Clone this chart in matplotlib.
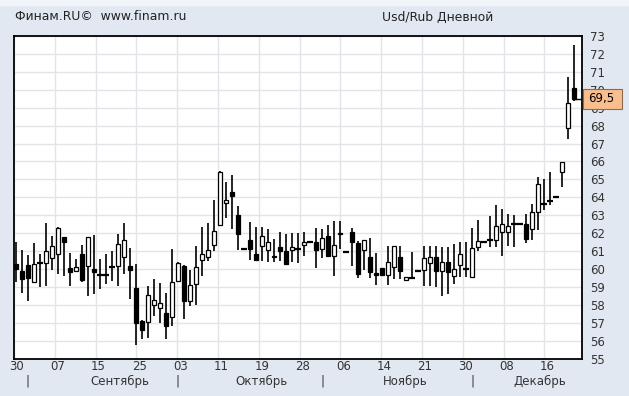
import matplotlib
matplotlib.use("Agg")
import matplotlib.pyplot as plt
from matplotlib.patches import Rectangle
from matplotlib.transforms import blended_transform_factory

# Usd/Rub, дневные свечи (open / high / low / close)
opens = [60.28, 59.89, 60.22, 59.30, 60.31, 60.31, 60.59, 60.81, 61.76, 60.06,
         59.87, 60.83, 60.15, 60.00, 59.74, 59.72, 60.09, 60.14, 60.69, 60.17,
         58.96, 57.12, 57.07, 57.97, 57.84, 57.53, 57.34, 59.35, 60.17, 58.19,
         59.18, 60.50, 60.67, 61.33, 62.47, 63.70, 64.27, 63.02, 61.10, 61.63,
         60.85, 61.31, 61.04, 60.74, 61.24, 61.02, 61.04, 61.13, 61.33, 61.48,
         61.50, 61.11, 61.85, 60.70, 62.02, 60.94, 62.06, 61.44, 61.07, 60.67,
         59.79, 60.05, 59.68, 60.10, 60.65, 59.38, 59.48, 59.88, 59.95, 60.34,
         60.65, 59.86, 60.38, 59.61, 60.23, 59.99, 59.58, 61.20, 61.50, 61.59,
         61.59, 62.05, 62.05, 62.50, 62.50, 62.51, 62.25, 63.20, 63.63, 63.82,
         64.04, 65.40, 67.85, 70.08]
highs = [61.48, 61.06, 60.78, 61.44, 60.83, 62.56, 61.85, 62.35, 61.78, 60.89,
         60.56, 61.33, 61.80, 61.91, 60.56, 60.83, 61.02, 61.94, 62.54, 61.15,
         60.26, 57.15, 59.03, 59.46, 59.22, 58.65, 61.13, 60.40, 60.20, 59.97,
         61.28, 62.32, 62.56, 63.83, 65.45, 64.88, 65.25, 63.52, 61.10, 62.63,
         62.37, 62.33, 62.22, 61.67, 62.06, 61.93, 62.00, 62.00, 62.04, 61.48,
         62.28, 62.22, 62.46, 62.65, 62.70, 60.94, 62.30, 61.57, 61.60, 61.75,
         60.89, 60.05, 61.29, 61.30, 61.29, 59.56, 60.93, 59.88, 61.29, 61.26,
         61.29, 61.20, 61.20, 61.39, 61.48, 61.53, 62.28, 62.74, 61.50, 62.93,
         63.58, 63.33, 63.08, 63.04, 62.50, 63.09, 63.62, 65.16, 65.03, 65.40,
         64.04, 65.96, 70.73, 72.50]
lows = [59.30, 58.67, 58.24, 59.26, 59.00, 59.04, 59.96, 59.72, 59.63, 59.07,
        59.85, 59.26, 58.52, 58.61, 58.89, 59.17, 59.35, 59.03, 59.73, 58.31,
        55.78, 56.09, 56.15, 57.38, 57.01, 56.09, 56.83, 59.30, 57.20, 57.91,
        57.99, 59.62, 60.44, 61.00, 62.45, 62.84, 62.25, 61.04, 61.10, 60.48,
        60.48, 60.43, 60.37, 60.37, 60.43, 60.28, 60.37, 60.33, 60.74, 61.48,
        60.06, 60.61, 60.70, 59.63, 61.11, 60.94, 60.19, 59.50, 59.97, 59.50,
        59.09, 59.68, 59.09, 59.46, 59.46, 59.38, 59.45, 59.88, 59.03, 59.03,
        59.00, 58.50, 58.58, 59.18, 59.58, 59.58, 59.58, 61.03, 61.50, 61.25,
        61.22, 60.74, 61.29, 61.25, 62.50, 61.43, 61.64, 62.18, 63.30, 63.58,
        64.04, 64.60, 67.24, 69.39]
closes = [60.02, 59.46, 59.52, 60.26, 60.31, 60.98, 61.31, 62.31, 61.52, 59.85,
          60.09, 59.41, 61.76, 59.81, 59.69, 59.68, 60.09, 61.42, 61.61, 59.97,
          57.01, 56.61, 58.56, 58.28, 58.10, 56.83, 59.29, 60.34, 58.19, 59.13,
          60.12, 60.83, 61.06, 62.10, 65.39, 63.87, 64.09, 61.94, 61.10, 61.11,
          60.52, 61.85, 61.50, 60.67, 61.02, 60.28, 61.22, 61.13, 61.50, 61.48,
          61.04, 61.72, 60.70, 61.35, 61.93, 60.94, 61.48, 59.70, 61.59, 59.83,
          59.68, 59.68, 60.38, 61.29, 59.86, 59.55, 59.48, 59.88, 60.60, 60.65,
          59.86, 60.38, 59.83, 60.01, 60.84, 59.99, 61.16, 61.57, 61.50, 61.59,
          62.39, 62.51, 62.39, 62.50, 62.50, 61.69, 63.17, 64.73, 63.63, 63.82,
          64.04, 65.96, 69.25, 69.50]

date_labels = ["30", "07", "15", "25", "03", "11", "19", "28",
               "06", "14", "21", "30", "08", "16"]
months = ["Сентябрь", "Октябрь", "Ноябрь", "Декабрь"]
month_starts = [2, 27, 51, 76]          # первая свеча месяца
month_text_x = [17.3, 41.0, 64.8, 87.3]  # где стоит название месяца
last_price = 69.5

BG = "#E2E8F1"
W, H = 629, 396

fig = plt.figure(figsize=(W / 100, H / 100), dpi=100, facecolor=BG)
fig.patches.append(Rectangle((0, 1 - 5 / H), 1, 5 / H, transform=fig.transFigure,
                             color="#F1F4F9", zorder=0))
ax = fig.add_axes([14 / W, 37.4 / H, 568 / W, 322.6 / H])
ax.set_facecolor("white")

n = len(opens)
ax.set_xlim(-0.33, 94.33)
ax.set_ylim(55, 73)

# сетка
grid_x = [-0.33 + 6.8 * k for k in range(len(date_labels))]
ax.set_xticks(grid_x)
ax.set_xticklabels([])
ax.set_yticks(range(55, 74))
ax.grid(True, color="#E2E4EA", lw=1)
ax.set_axisbelow(True)
ax.tick_params(axis="x", length=0)
ax.yaxis.tick_right()
ax.tick_params(axis="y", length=0, pad=6, labelsize=8.5, labelcolor="#333333")
for s in ax.spines.values():
    s.set_color("black")
    s.set_linewidth(1.3)

# тени
ax.vlines(range(n), lows, highs, color="black", lw=1.2, zorder=2)

# тела свечей
for i in range(n):
    o, c = opens[i], closes[i]
    if abs(c - o) < 0.06:
        ax.hlines(c, i - 0.42, i + 0.42, color="black", lw=1.6, zorder=3)
    else:
        ax.bar(i, abs(c - o), bottom=min(o, c), width=0.72,
               color="black" if c < o else "white", edgecolor="black",
               lw=0.9, zorder=3)

# метка последней цены
ax.hlines(last_price, n - 1, 94.33, color="black", lw=1, zorder=2)
tr = blended_transform_factory(ax.transAxes, ax.transData)
ax.add_patch(Rectangle((1.0015, last_price - 0.56), 39 / 568, 1.12, transform=tr,
                       facecolor="#F9BE8E", edgecolor="#8A6A50", lw=0.8,
                       clip_on=False, zorder=5))
ax.text(1 + 6 / 568, last_price, "69,5", transform=tr, ha="left", va="center",
        fontsize=8.5, color="black", zorder=6)

# подписи дат и месяцев
xt = ax.get_xaxis_transform()
for gx, lab in zip(grid_x, date_labels):
    ax.text(gx + 0.5, -0.026, lab, transform=xt, ha="center", va="center",
            fontsize=8.5, color="#333333")
for ms in month_starts:
    ax.text(ms, -0.069, "|", transform=xt, ha="center", va="center",
            fontsize=8.5, color="#333333")
for mx, name in zip(month_text_x, months):
    ax.text(mx, -0.072, name, transform=xt, ha="center", va="center",
            fontsize=8.5, color="#333333")

# заголовок
fig.text(15 / W, 1 - 17 / H, "Финам.RU©  www.finam.ru", ha="left", va="center",
         fontsize=8.9, color="#222222")
fig.text(382 / W, 1 - 17 / H, "Usd/Rub Дневной", ha="left", va="center",
         fontsize=8.9, color="#222222")

fig.savefig("out.png", dpi=100, facecolor=BG)
